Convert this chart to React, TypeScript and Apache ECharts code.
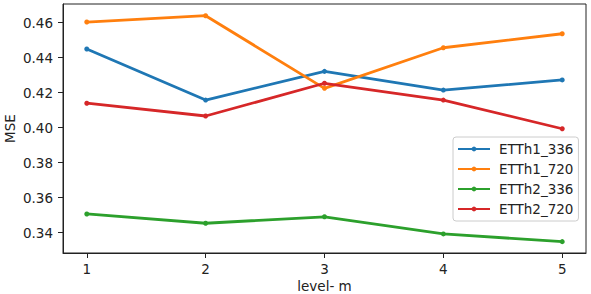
import React, { useEffect, useRef } from "react";
import * as echarts from "echarts";

const levels = [1, 2, 3, 4, 5];
const seriesNames = ["ETTh1_336", "ETTh1_720", "ETTh2_336", "ETTh2_720"];
const etth1_336 = [0.445, 0.4158, 0.4322, 0.4215, 0.4273];
const etth1_720 = [0.4604, 0.464, 0.4225, 0.4457, 0.4537];
const etth2_336 = [0.3507, 0.3454, 0.3491, 0.3393, 0.3349];
const etth2_720 = [0.414, 0.4067, 0.4254, 0.4158, 0.3994];
const yTicks = [0.34, 0.36, 0.38, 0.4, 0.42, 0.44, 0.46];
const colors = ["#1f77b4", "#ff7f0e", "#2ca02c", "#d62728"];

export default function App() {
  const ref = useRef<HTMLDivElement>(null);
  useEffect(() => {
    const chart = echarts.init(ref.current!, null, { renderer: "svg" });
    const all = [etth1_336, etth1_720, etth2_336, etth2_720];
    const font = "DejaVu Sans";
    chart.setOption({
      animation: false,
      backgroundColor: "#fff",
      textStyle: { fontFamily: font },
      grid: {
        left: 63,
        right: 5,
        top: 4,
        bottom: 41,
        outerBoundsMode: "none",
        containLabel: false,
        show: true,
        borderColor: "#222",
        borderWidth: 1,
        backgroundColor: "transparent",
      },
      xAxis: {
        type: "value",
        min: 0.8,
        max: 5.2,
        name: "level- m",
        nameLocation: "middle",
        nameGap: 26,
        nameMoveOverlap: false,
        nameTextStyle: { fontSize: 13.5, color: "#222", fontFamily: font },
        axisLine: { show: true, onZero: false, lineStyle: { color: "#222", width: 1 } },
        axisTick: { show: true, length: 5, customValues: levels, lineStyle: { color: "#222" } },
        axisLabel: {
          customValues: levels,
          fontSize: 13.5,
          color: "#222",
          margin: 9,
          fontFamily: font,
        },
        splitLine: { show: false },
      },
      yAxis: {
        type: "value",
        min: 0.3284,
        max: 0.4707,
        name: "MSE",
        nameLocation: "middle",
        nameGap: 46,
        nameMoveOverlap: false,
        nameRotate: 90,
        nameTextStyle: { fontSize: 13.5, color: "#222", fontFamily: font },
        axisLine: { show: true, lineStyle: { color: "#222", width: 1 } },
        axisTick: { show: true, length: 5, customValues: yTicks, lineStyle: { color: "#222" } },
        axisLabel: {
          customValues: yTicks,
          fontSize: 13.5,
          color: "#222",
          margin: 10,
          fontFamily: font,
          formatter: (v: number) => v.toFixed(2),
        },
        splitLine: { show: false },
      },
      legend: {
        orient: "vertical",
        left: 453,
        top: 137,
        padding: [5, 5, 5, 4],
        itemWidth: 32,
        itemHeight: 6,
        itemGap: 6,
        backgroundColor: "rgba(255,255,255,0.85)",
        borderColor: "#ccc",
        borderWidth: 1,
        borderRadius: 3,
        textStyle: { fontSize: 13.5, color: "#222", fontFamily: font, padding: [0, 0, 0, 4] },
        data: seriesNames,
      },
      series: seriesNames.map((name, i) => ({
        name,
        type: "line",
        data: levels.map((x, j) => [x, all[i][j]]),
        color: colors[i],
        symbol: "circle",
        symbolSize: 5,
        showSymbol: true,
        lineStyle: { width: 2.8, color: colors[i] },
        itemStyle: { color: colors[i] },
      })),
    });
    return () => chart.dispose();
  }, []);
  return (
    <div
      ref={ref}
      style={{ position: "fixed", left: 0, top: 0, width: 591, height: 294 }}
    />
  );
}
